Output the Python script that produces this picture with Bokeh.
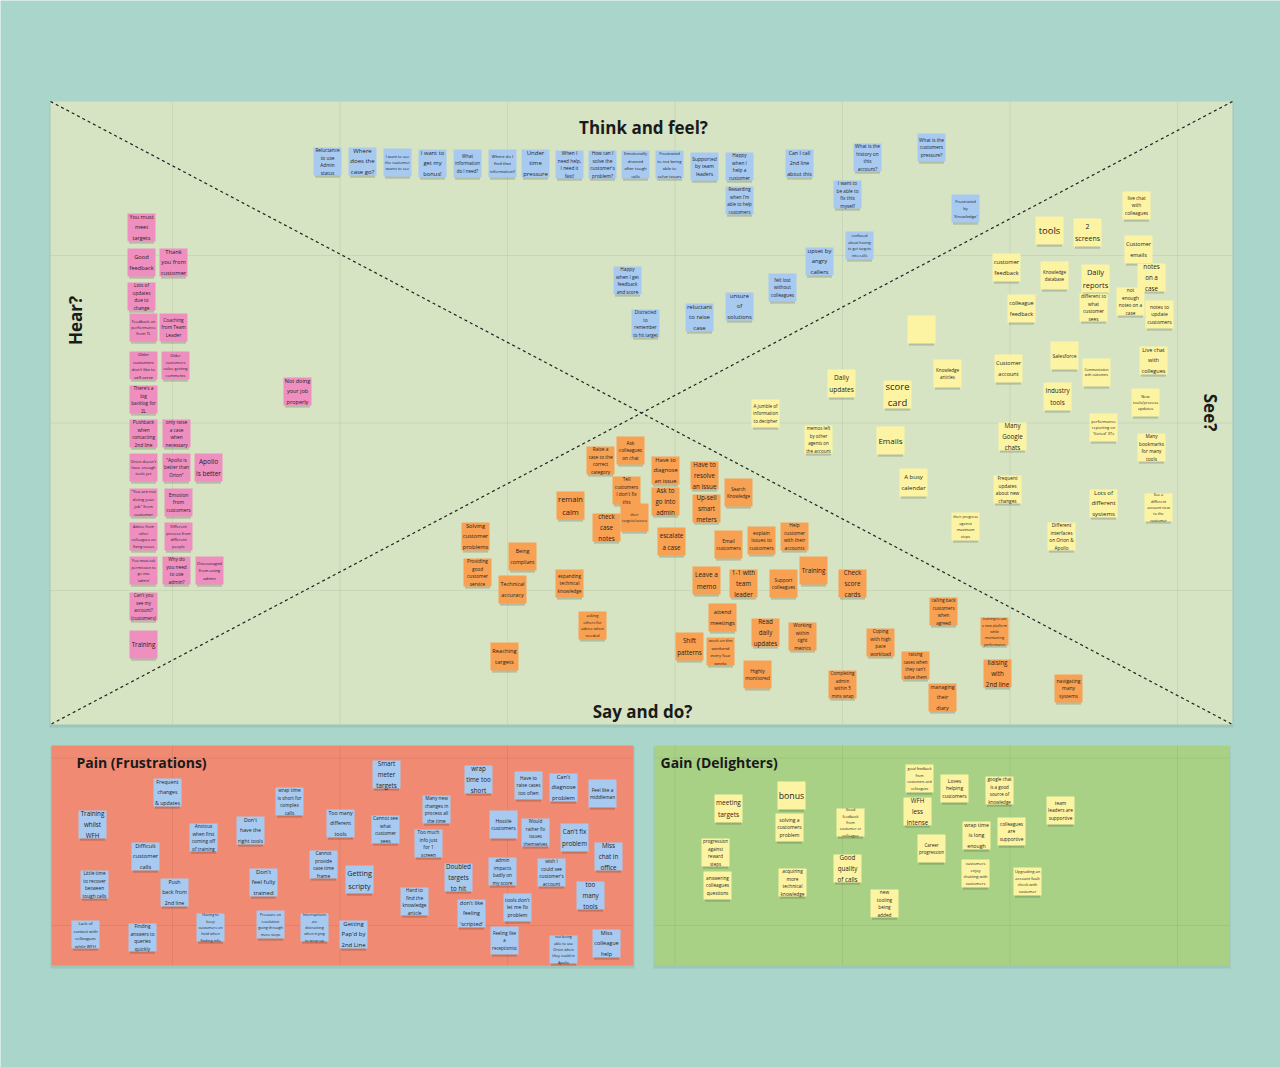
from bokeh.plotting import figure
from bokeh.models import Range1d, ColumnDataSource
from bokeh.core.properties import value
from bokeh.embed import file_html
from bokeh.resources import INLINE
import math

# ---------------- data: sticky notes (text, board x, board y) ----------------
think_notes = [
    ("Reluctance to use Admin status", 327, 161),
    ("Where does the case go?", 362, 161),
    ("I want to see the customer wants to see", 397, 162),
    ("I want to get my bonus!", 432, 163),
    ("What information do I need?", 467, 163),
    ("Where do I find that information?", 502, 163),
    ("Under time pressure", 535, 163),
    ("When I need help, I need it fast!", 569, 164),
    ("How can I solve the customer's problem?", 602, 164),
    ("Emotionally drained after tough calls", 635, 164),
    ("Frustrated to not being able to solve issues", 669, 164),
    ("Supported by team leaders", 704, 166),
    ("Happy when I help a customer", 739, 166),
    ("Rewarding when I'm able to help customers", 739, 200),
    ("Can I call 2nd line about this", 799, 163),
    ("What is the history on this account?", 867, 157),
    ("What is the customers pressure?", 931, 147),
    ("I want to be able to fix this myself", 847, 194),
    ("Frustrated by 'Knowledge'", 965, 208),
    ("confused about having to get targets into calls", 859, 245),
    ("upset by angry callers", 819, 261),
    ("felt lost without colleagues", 782, 287),
    ("Happy when I get feedback and score", 627, 280),
    ("Distracted to remember to hit target", 645, 323),
    ("reluctant to raise case", 699, 317),
    ("unsure of solutions", 739, 306),
]

hear_notes = [
    ("You must meet targets", 141, 227),
    ("Good feedback", 141, 262),
    ("Thank you from customer", 173, 262),
    ("Lots of updates due to change", 141, 296),
    ("Feedback on performance from TL", 143, 327),
    ("Coaching from Team Leader", 173, 327),
    ("Older customers don't like to self-serve", 143, 365),
    ("Older customers value getting comments", 175, 365),
    ("There's a big backlog for 2L", 143, 399),
    ("Not doing your job properly", 297, 391),
    ("Pushback when contacting 2nd line", 143, 433),
    ("only raise a case when necessary", 176, 433),
    ("Orion doesn't have enough tools yet", 143, 467),
    ("\"Apollo is better than Orion\"", 176, 467),
    ("Apollo is better", 208, 467),
    ("\"You are not doing your job\" from customer", 143, 502),
    ("Emotion from customers", 178, 502),
    ("Advice from other colleagues on fixing issues", 143, 536),
    ("Different process from different people", 178, 536),
    ("You must ask permission to go into 'admin'", 143, 570),
    ("Why do you need to use admin?", 176, 570),
    ("Discouraged from using admin", 209, 570),
    ("Can't you see my account? (customers)", 143, 606),
    ("Training", 143, 644),
]

see_notes = [
    ("live chat with colleagues", 1136, 205),
    ("tools", 1049, 230),
    ("2 screens", 1087, 232),
    ("Customer emails", 1138, 249),
    ("customer feedback", 1006, 267),
    ("Knowledge database", 1054, 275),
    ("Daily reports", 1095, 278),
    ("notes on a case", 1151, 277),
    ("colleague feedback", 1021, 308),
    ("different to what customer sees", 1093, 307),
    ("not enough notes on a case", 1130, 301),
    ("notes to update customers", 1159, 314),
    ("", 921, 329),
    ("Salesforce", 1064, 355),
    ("Live chat with collegues", 1153, 360),
    ("Daily updates", 841, 383),
    ("Knowledge articles", 947, 373),
    ("Customer account", 1008, 368),
    ("Communication with customers", 1096, 372),
    ("score card", 897, 394),
    ("Industry tools", 1057, 396),
    ("New tools/process updates", 1145, 402),
    ("A jumble of information to decipher", 765, 413),
    ("memos left by other agents on the account", 818, 439),
    ("Emails", 890, 440),
    ("Many Google chats", 1012, 436),
    ("performance reporting on 'Varied' 3Ts", 1103, 427),
    ("Many bookmarks for many tools", 1151, 447),
    ("A busy calendar", 913, 482),
    ("Frequent updates about new changes", 1007, 489),
    ("Lots of different systems", 1103, 503),
    ("See a different account view to the customer", 1158, 507),
    ("their progress against maximum steps", 965, 526),
    ("Different interfaces on Orion & Apollo", 1061, 536),
]

say_notes = [
    ("Ask colleagues on chat", 630, 450),
    ("Raise a case to the correct category", 600, 460),
    ("Have to diagnose an issue", 665, 470),
    ("Have to resolve an issue", 704, 475),
    ("Tell customers I don't fix this", 626, 490),
    ("Ask to go into admin", 665, 501),
    ("Search Knowledge", 738, 492),
    ("remain calm", 570, 505),
    ("Up-sell smart meters", 706, 508),
    ("their targets/scores", 634, 517),
    ("check case notes", 606, 527),
    ("escalate a case", 671, 541),
    ("Email customers", 728, 544),
    ("explain issues to customers", 761, 540),
    ("Help customer with their accounts", 794, 536),
    ("Solving customer problems", 475, 536),
    ("Being compliant", 522, 556),
    ("Providing good customer service", 477, 572),
    ("Technical accuracy", 512, 589),
    ("expanding technical knowledge", 569, 583),
    ("Leave a memo", 706, 580),
    ("1-1 with team leader", 743, 583),
    ("Support colleagues", 783, 583),
    ("Training", 813, 570),
    ("Check score cards", 852, 583),
    ("Reaching targets", 504, 656),
    ("asking others for advice when needed", 592, 625),
    ("attend meetings", 722, 617),
    ("Read daily updates", 765, 632),
    ("Working within tight metrics", 802, 636),
    ("Shift patterns", 689, 646),
    ("work on the weekend every four weeks", 720, 651),
    ("Highly monitored", 757, 674),
    ("Coping with high pace workload", 880, 642),
    ("calling back customers when agreed", 943, 611),
    ("training to use a new platform while maintaining performance", 994, 631),
    ("raising cases when they can't solve them", 915, 665),
    ("Completing admin within 5 mins wrap", 842, 684),
    ("managing their diary", 942, 697),
    ("liaising with 2nd line", 997, 673),
    ("navigating many systems", 1068, 688),
]

pain_notes = [
    ("Frequent changes & updates", 167, 792),
    ("wrap time is short for complex calls", 289, 801),
    ("Training whilst WFH", 92, 824),
    ("Anxious when first coming off of training", 203, 837),
    ("Don't have the right tools", 250, 830),
    ("Too many different tools", 340, 823),
    ("Difficult customer calls", 145, 856),
    ("Cannot provide case time frame", 323, 864),
    ("Little time to recover between tough calls", 94, 884),
    ("Push back from 2nd line", 174, 892),
    ("Don't feel fully trained", 263, 882),
    ("Lack of contact with colleagues while WFH", 85, 934),
    ("Finding answers to queries quickly", 142, 937),
    ("Having to keep customers on hold when finding info", 210, 927),
    ("Pressure on resolution going through more steps", 270, 924),
    ("Interruptions are distracting when trying to wrap up", 314, 927),
    ("Smart meter targets", 386, 774),
    ("wrap time too short", 478, 779),
    ("Have to raise cases too often", 528, 785),
    ("Can't diagnose problem", 563, 787),
    ("Feel like a middleman", 602, 793),
    ("Many new changes in process all the time", 436, 809),
    ("Cannot see what customer sees", 385, 829),
    ("Hostile customers", 503, 824),
    ("Would rather fix issues themselves", 535, 832),
    ("Can't fix problem", 574, 837),
    ("Too much info just for 1 screen", 428, 843),
    ("Miss chat in office", 608, 856),
    ("Getting scripty", 359, 879),
    ("Doubled targets to hit", 458, 877),
    ("admin impacts badly on my score", 502, 871),
    ("wish I could see customer's account", 551, 872),
    ("too many tools", 590, 895),
    ("Hard to find the knowledge article", 414, 901),
    ("don't like feeling 'scripted'", 471, 913),
    ("tools don't let me fix problem", 517, 907),
    ("Getting Pap'd by 2nd Line", 353, 934),
    ("Feeling like a receptionist", 504, 940),
    ("not being able to use Orion when they could in Apollo", 563, 949),
    ("Miss colleague help", 606, 943),
]

gain_notes = [
    ("meeting targets", 728, 808),
    ("bonus", 791, 795),
    ("solving a customers problem", 789, 827),
    ("progression against reward steps", 715, 852),
    ("answering colleagues questions", 717, 885),
    ("acquiring more technical knowledge", 792, 882),
    ("Good feedback from customer or colleague", 850, 822),
    ("Good quality of calls", 847, 868),
    ("new tooling being added", 884, 903),
    ("good feedback from customers and colleagues", 919, 778),
    ("WFH less intense", 917, 811),
    ("Loves helping customers", 954, 788),
    ("google chat is a good source of knowledge", 999, 790),
    ("Career progression", 931, 848),
    ("wrap time is long enough", 976, 835),
    ("colleagues are supportive", 1011, 831),
    ("team leaders are supportive", 1060, 810),
    ("customers enjoy chatting with customers", 975, 873),
    ("Upgrading an account fault check with customer", 1027, 881),
]

quadrant_labels = ["Think and feel?", "Hear?", "See?", "Say and do?"]
panel_labels = ["Pain (Frustrations)", "Gain (Delighters)"]

# ---------------- styling ----------------
BG = "#a9d5ca"
BOARD = "#d6e4c3"
PAIN = "#f08a72"
GAIN = "#a9d185"
BLUE = "#a8caf1"
PINK = "#ef8fc0"
ORANGE = "#f8a152"
YELLOW = "#fdf4a3"
FONT = "Open Sans"

board = (50, 1232, 101, 724)
pain_box = (51, 633, 745, 965)
gain_box = (654, 1229, 745, 965)

NOTE = 28.0


def char_em(c):
    if c in "il.,:;'!|":
        return 0.26
    if c in "ftrjI()-/\"":
        return 0.34
    if c == " ":
        return 0.26
    if c in "scz":
        return 0.46
    if c in "mw":
        return 0.84
    if c in "MW":
        return 0.88
    if c.isupper():
        return 0.62
    if c.isdigit():
        return 0.56
    if c == "?":
        return 0.43
    if c == "&":
        return 0.7
    return 0.56


def em(s):
    return sum(char_em(c) for c in s)


def autofit(text, inner=24.0, inner_h=24.5, lh=1.27):
    words = text.split()
    if not words:
        return "", 6.0
    fs = 9.5
    while fs > 2.5:
        ok = True
        lines, cur = [], ""
        for w in words:
            if em(w) * fs > inner:
                ok = False
                break
            t = w if not cur else cur + " " + w
            if em(t) * fs <= inner:
                cur = t
            else:
                lines.append(cur)
                cur = w
        if ok:
            lines.append(cur)
            if len(lines) * fs * lh <= inner_h:
                return "\n".join(lines), fs
        fs -= 0.25
    return text, 2.5


p = figure(width=1280, height=1067, x_range=Range1d(0, 1280), y_range=Range1d(1067, 0),
           output_backend="svg", toolbar_location=None, min_border=0)
p.axis.visible = False
p.grid.visible = False
p.outline_line_color = None
p.background_fill_color = BG
p.border_fill_color = BG


def box(b, color, shadow=True):
    l, r, t, btm = b
    if shadow:
        p.quad(left=[l - 1], right=[r + 1], top=[t + 1], bottom=[btm + 3],
               fill_color="black", fill_alpha=0.07, line_color=None)
    p.quad(left=[l], right=[r], top=[t], bottom=[btm], fill_color=color, line_color=None)


box(board, BOARD)
box(pain_box, PAIN)
box(gain_box, GAIN)

# faint grid of the whiteboard
gx = [172 + k * 167.5 for k in range(7)]
gy = [255, 422.5, 590, 757.5, 925]
x0, x1, y0, y1 = [], [], [], []
for b in (board, pain_box, gain_box):
    l, r, t, btm = b
    for x in gx:
        if l < x < r:
            x0.append(x); x1.append(x); y0.append(t); y1.append(btm)
    for y in gy:
        if t < y < btm:
            x0.append(l); x1.append(r); y0.append(y); y1.append(y)
p.segment(x0=x0, y0=y0, x1=x1, y1=y1, line_color="black", line_alpha=0.06, line_width=1)

# diagonals
l, r, t, btm = board
p.segment(x0=[l, r], y0=[t, t], x1=[r, l], y1=[btm, btm], line_color="#222222",
          line_width=1.2, line_dash="3 3")


def draw_notes(notes, color):
    xs = [n[1] for n in notes]
    ys = [n[2] for n in notes]
    fitted = [autofit(n[0]) for n in notes]
    src = ColumnDataSource(dict(
        x=xs, y=ys,
        l=[x - NOTE / 2 for x in xs], r=[x + NOTE / 2 for x in xs],
        t=[y - NOTE / 2 for y in ys], b=[y + NOTE / 2 for y in ys],
        sl=[x - NOTE / 2 + 1.5 for x in xs], sr=[x + NOTE / 2 - 1.5 for x in xs],
        st=[y + NOTE / 2 - 6 for y in ys], sb=[y + NOTE / 2 + 2.2 for y in ys],
        txt=[f[0] for f in fitted], fs=["%.2fpx" % f[1] for f in fitted],
    ))
    p.quad(left="sl", right="sr", top="st", bottom="sb", source=src,
           fill_color="black", fill_alpha=0.16, line_color=None)
    p.quad(left="l", right="r", top="t", bottom="b", source=src,
           fill_color=color, line_color=None)
    p.text(x="x", y="y", text="txt", source=src, text_font=value(FONT),
           text_font_size="fs", text_align="center", text_baseline="middle",
           text_color="#1e1e1e", text_line_height=1.27)


draw_notes(think_notes, BLUE)
draw_notes(hear_notes, PINK)
draw_notes(see_notes, YELLOW)
draw_notes(say_notes, ORANGE)
draw_notes(pain_notes, BLUE)
draw_notes(gain_notes, YELLOW)

# quadrant labels
p.text(x=[643], y=[127], text=[quadrant_labels[0]], text_font=value(FONT), text_font_style="bold",
       text_font_size="17px", text_align="center", text_baseline="middle", text_color="#1a1a1a")
p.text(x=[642], y=[711], text=[quadrant_labels[3]], text_font=value(FONT), text_font_style="bold",
       text_font_size="17px", text_align="center", text_baseline="middle", text_color="#1a1a1a")
p.text(x=[75], y=[320], text=[quadrant_labels[1]], angle=math.pi / 2, text_font=value(FONT),
       text_font_style="bold", text_font_size="17px", text_align="center", text_baseline="middle",
       text_color="#1a1a1a")
p.text(x=[1210], y=[412], text=[quadrant_labels[2]], angle=-math.pi / 2, text_font=value(FONT),
       text_font_style="bold", text_font_size="17px", text_align="center", text_baseline="middle",
       text_color="#1a1a1a")
p.text(x=[76, 660], y=[762, 762], text=panel_labels, text_font=value(FONT), text_font_style="bold",
       text_font_size="14px", text_align="left", text_baseline="middle", text_color="#1a1a1a")

open("out.html", "w").write(file_html(p, INLINE))
